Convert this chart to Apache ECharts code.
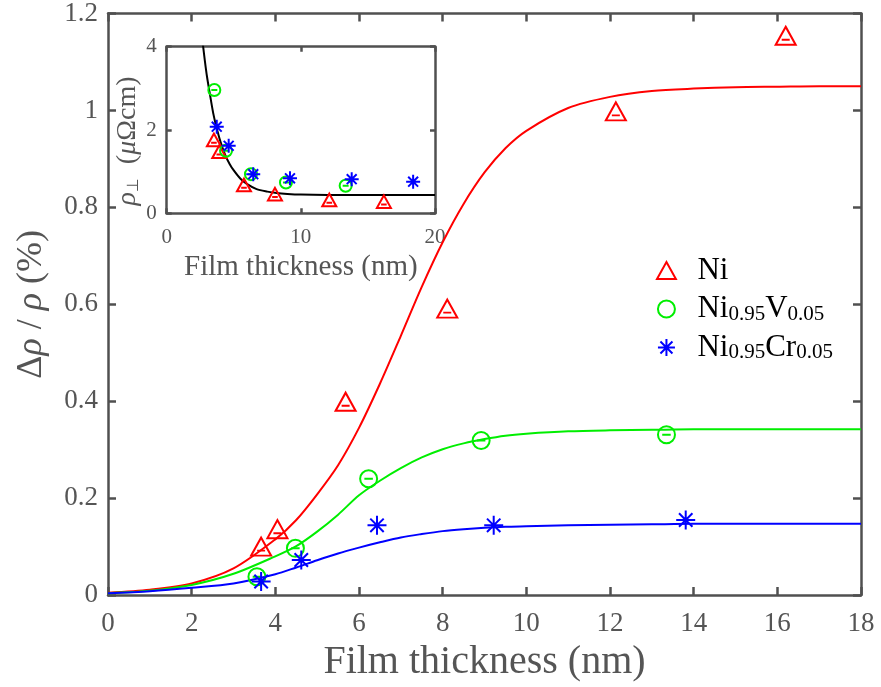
<!DOCTYPE html>
<html>
<head>
<meta charset="utf-8">
<script src="https://cdn.jsdelivr.net/npm/echarts@6/dist/echarts.min.js"></script>
<style>html,body{margin:0;padding:0;background:#fff}#c{width:881px;height:687px}</style>
</head>
<body>
<div id="c"></div>
<script>
// ---- data ----
const fitT   = [0,1,2,3,4,4.5,5,5.5,6,6.5,7,7.5,8,8.5,9,9.5,10,11,12,13,14,15,16,17,18];
const niFit  = [0.005,0.011,0.024,0.055,0.115,0.155,0.208,0.268,0.345,0.436,0.535,0.636,0.728,0.807,0.872,0.922,0.958,1.005,1.028,1.040,1.045,1.048,1.049,1.05,1.05];
const niVFit = [0.004,0.009,0.021,0.044,0.080,0.101,0.131,0.166,0.206,0.236,0.262,0.284,0.301,0.313,0.322,0.329,0.333,0.338,0.340,0.341,0.342,0.342,0.342,0.342,0.342];
const niCrFit= [0.004,0.008,0.015,0.024,0.043,0.057,0.072,0.086,0.098,0.109,0.119,0.126,0.132,0.136,0.139,0.141,0.142,0.144,0.145,0.146,0.147,0.147,0.147,0.147,0.147];

const niT   = [3.66,4.05,5.68,8.11,12.14,16.2];
const niY   = [0.100,0.136,0.399,0.591,0.998,1.154];
const niVT  = [3.56,4.48,6.23,8.92,13.35];
const niVY  = [0.038,0.0965,0.240,0.319,0.331];
const niCrT = [3.66,4.62,6.43,9.22,13.81];
const niCrY = [0.028,0.0725,0.144,0.144,0.155];

// inset: rho_perp (µΩcm) vs thickness
const insNiT   = [3.52,3.92,5.76,8.07,12.12,16.19];
const insNiR   = [1.76,1.48,0.68,0.46,0.32,0.28];
const insNiVT  = [3.55,4.42,6.28,8.89,13.34];
const insNiVR  = [2.96,1.50,0.94,0.74,0.66];
const insNiCrT = [3.73,4.62,6.45,9.19,13.79,18.37];
const insNiCrR = [2.08,1.62,0.94,0.84,0.82,0.76];
const insFitT  = [2.7,2.85,3.0,3.2,3.47,3.7,4.0,4.35,4.7,5.0,5.5,6.0,6.7,7.5,8.2,9,10,12,15,20];
const insFitR  = [4.05,3.65,3.29,2.90,2.40,2.08,1.73,1.41,1.18,1.03,0.83,0.70,0.58,0.52,0.485,0.464,0.449,0.441,0.44,0.44];

const mainXTicks = [0,2,4,6,8,10,12,14,16,18];
const mainYTicks = [0,0.2,0.4,0.6,0.8,1,1.2];
const insXTicks = [0,10,20];
const insYTicks = [0,2,4];

const seriesNames = ['Ni','Ni0.95V0.05','Ni0.95Cr0.05'];
const legendRich = {
  'Ni': '{p| }{n|Ni}',
  'Ni0.95V0.05': '{p| }{n|Ni}{s|0.95}{n|V}{s|0.05}',
  'Ni0.95Cr0.05': '{p| }{n|Ni}{s|0.95}{n|Cr}{s|0.05}'
};

// ---- styling ----
const FONT = "'Liberation Serif','DejaVu Serif',serif";
const AX = '#505050';
const TXT = '#555';
const RED = '#ff0000', GREEN = '#00ee00', BLUE = '#0000ff';

const zip = (a, b) => a.map((v, i) => [v, b[i]]);

const TRI_DASH = 'path://M0,-10L10,8L-10,8Z M-4,3L4,3';
const CIRC_DASH = 'path://M10,0C10,5.523 5.523,10 0,10C-5.523,10 -10,5.523 -10,0C-10,-5.523 -5.523,-10 0,-10C5.523,-10 10,-5.523 10,0Z M-5,0L5,0';
const STAR = 'path://M0,-10L0,10M-10,0L10,0M-7.07,-7.07L7.07,7.07M-7.07,7.07L7.07,-7.07';
const TRI = 'path://M0,-10L10,8L-10,8Z';

function axisCommon(min, max, interval, tickLen, showLabel, labelMargin) {
  return {
    type: 'value', min, max, interval,
    axisLine: { show: true, onZero: false, lineStyle: { color: AX, width: 2.5 } },
    axisTick: { show: true, inside: true, length: tickLen, lineStyle: { color: AX, width: 2.5 } },
    axisLabel: { show: showLabel, color: TXT, fontFamily: FONT, fontSize: 27, margin: labelMargin },
    splitLine: { show: false }
  };
}

const mainX = Object.assign(axisCommon(mainXTicks[0], mainXTicks[mainXTicks.length-1], mainXTicks[1]-mainXTicks[0], 8, true, 15), {
  gridIndex: 0, position: 'bottom',
  name: 'Film thickness (nm)', nameLocation: 'middle', nameGap: 44,
  nameTextStyle: { color: TXT, fontFamily: FONT, fontSize: 40 }
});
const mainXTop = Object.assign(axisCommon(mainXTicks[0], mainXTicks[mainXTicks.length-1], mainXTicks[1]-mainXTicks[0], 8, false, 8), { gridIndex: 0, position: 'top' });
const mainY = Object.assign(axisCommon(mainYTicks[0], mainYTicks[mainYTicks.length-1], 0.2, 8, true, 10), {
  gridIndex: 0, position: 'left',
  name: '{n|Δ}{i|ρ}{n| / }{i|ρ}{n| (%)}', nameLocation: 'middle', nameGap: 58, nameRotate: 90,
  nameTextStyle: { color: TXT, fontFamily: FONT, fontSize: 36,
    rich: { n: { color: TXT, fontFamily: FONT, fontSize: 36 }, i: { color: TXT, fontFamily: FONT, fontSize: 36, fontStyle: 'italic' } } }
});
const mainYRight = Object.assign(axisCommon(mainYTicks[0], mainYTicks[mainYTicks.length-1], 0.2, 8, false, 8), { gridIndex: 0, position: 'right' });

const insX = Object.assign(axisCommon(insXTicks[0], insXTicks[insXTicks.length-1], 10, 5, true, 14), {
  gridIndex: 1, position: 'bottom',
  name: 'Film thickness (nm)', nameLocation: 'middle', nameGap: 40,
  nameTextStyle: { color: TXT, fontFamily: FONT, fontSize: 29 }
});
insX.axisLabel.fontSize = 21;
const insXTop = Object.assign(axisCommon(insXTicks[0], insXTicks[insXTicks.length-1], 10, 5, false, 8), { gridIndex: 1, position: 'top' });
const insY = Object.assign(axisCommon(insYTicks[0], insYTicks[insYTicks.length-1], 2, 5, true, 10), {
  gridIndex: 1, position: 'left',
  name: '{i|ρ}{s|⊥}{n|  (}{i|μ}{n|Ωcm)}', nameLocation: 'middle', nameGap: 24, nameRotate: 90,
  nameTextStyle: { color: TXT, fontFamily: FONT, fontSize: 28, padding: [0, 22, 0, 0],
    rich: {
      n: { color: TXT, fontFamily: FONT, fontSize: 28, lineHeight: 30 },
      i: { color: TXT, fontFamily: FONT, fontSize: 28, fontStyle: 'italic', lineHeight: 30 },
      s: { color: TXT, fontFamily: "'DejaVu Sans',sans-serif", fontSize: 16, lineHeight: 15, verticalAlign: 'bottom' }
    } }
});
insY.axisLabel.fontSize = 21;
const insYRight = Object.assign(axisCommon(insYTicks[0], insYTicks[insYTicks.length-1], 2, 5, false, 8), { gridIndex: 1, position: 'right' });

function fitLine(name, xIdx, yIdx, t, v, color, z) {
  return { name, type: 'line', xAxisIndex: xIdx, yAxisIndex: yIdx, data: zip(t, v),
    showSymbol: false, smooth: 0.3, clip: true, z: z || 2,
    lineStyle: { color, width: 2 }, itemStyle: { color }, silent: true };
}
function scat(name, xIdx, yIdx, t, v, color, symbol, size) {
  return { name, type: 'scatter', xAxisIndex: xIdx, yAxisIndex: yIdx, data: zip(t, v),
    symbol, symbolSize: size, z: 4,
    itemStyle: { color: 'rgba(0,0,0,0)', borderColor: color, borderWidth: 2, opacity: 1 } };
}

const option = {
  animation: false,
  backgroundColor: '#fff',
  grid: [
    { left: 108, right: 20, top: 12.5, bottom: 90 },
    { left: 166.7, top: 46.7, width: 268.3, height: 166.6, show: true, backgroundColor: '#fff', borderWidth: 0 }
  ],
  xAxis: [mainX, mainXTop, insX, insXTop],
  yAxis: [mainY, mainYRight, insY, insYRight],
  legend: {
    orient: 'vertical', left: 651, top: 250,
    itemWidth: 20, itemHeight: 17, itemGap: 7.5,
    data: [
      { name: seriesNames[0], icon: TRI, itemStyle: { color: 'rgba(0,0,0,0)', borderColor: RED, borderWidth: 2 } },
      { name: seriesNames[1], icon: 'circle', itemStyle: { color: 'rgba(0,0,0,0)', borderColor: GREEN, borderWidth: 2 } },
      { name: seriesNames[2], icon: STAR, itemStyle: { color: 'rgba(0,0,0,0)', borderColor: BLUE, borderWidth: 2 } }
    ],
    formatter: (n) => legendRich[n],
    textStyle: {
      fontFamily: FONT, color: '#000',
      rich: {
        p: { width: 16, fontSize: 10, lineHeight: 31 },
        n: { fontFamily: FONT, fontSize: 31, lineHeight: 31, color: '#000' },
        s: { fontFamily: FONT, fontSize: 21, lineHeight: 16, verticalAlign: 'bottom', color: '#000' }
      }
    }
  },
  series: [
    fitLine('fitNi', 0, 0, fitT, niFit, RED),
    fitLine('fitNiV', 0, 0, fitT, niVFit, GREEN),
    fitLine('fitNiCr', 0, 0, fitT, niCrFit, BLUE),
    scat(seriesNames[0], 0, 0, niT, niY, RED, TRI_DASH, [20, 18]),
    scat(seriesNames[1], 0, 0, niVT, niVY, GREEN, CIRC_DASH, 17),
    scat(seriesNames[2], 0, 0, niCrT, niCrY, BLUE, STAR, 19),
    fitLine('insFit', 2, 2, insFitT, insFitR, '#000', 3),
    scat('insNi', 2, 2, insNiT, insNiR, RED, TRI_DASH, [14, 12.6]),
    scat('insNiV', 2, 2, insNiVT, insNiVR, GREEN, CIRC_DASH, 12),
    scat('insNiCr', 2, 2, insNiCrT, insNiCrR, BLUE, STAR, 14)
  ]
};

const chart = echarts.init(document.getElementById('c'), null, { renderer: 'canvas' });
chart.setOption(option);
</script>
</body>
</html>
